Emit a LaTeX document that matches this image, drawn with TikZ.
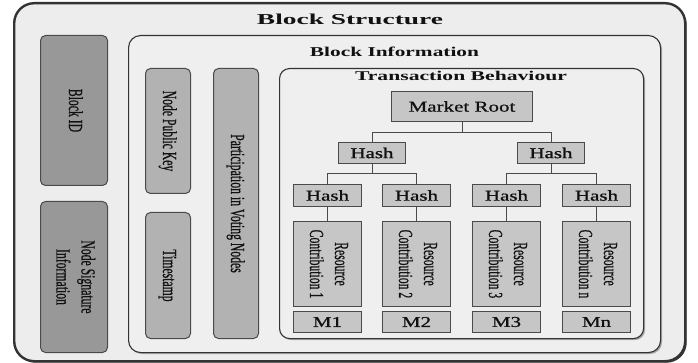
\documentclass[tikz,border=0pt]{standalone}
\usepackage{fontspec}
\setmainfont{Liberation Serif}
\newfontfamily\labelfont[FakeBold=0.8]{Liberation Serif}
\usetikzlibrary{shadows}

\definecolor{outerfill}{HTML}{EDEDED}
\definecolor{innerfill}{HTML}{EFEFEF}
\definecolor{darkcell}{HTML}{989898}
\definecolor{midcell}{HTML}{B2B2B2}
\definecolor{treecell}{HTML}{C6C6C6}
\definecolor{edgecol}{HTML}{4A4A4A}
\definecolor{framecol}{HTML}{333333}
\definecolor{inkcol}{HTML}{111111}

% wide horizontal labels and condensed vertical labels
\newcommand{\widelabel}[1]{\scalebox{1.4}[1]{#1}}
\newcommand{\talllabel}[1]{\rotatebox{-90}{\scalebox{0.585}[1]{\begin{tabular}{@{}c@{}}#1\end{tabular}}}}

\tikzset{
  x=1pt, y=-1pt,
  every node/.style={text=inkcol},
  frame/.style={draw=framecol, rounded corners=#1, anchor=north west, inner sep=0pt},
  outerframe/.style={frame=20pt, line width=2.4pt, fill=outerfill,
    drop shadow={shadow xshift=1.5pt, shadow yshift=-1.5pt, fill=framecol, opacity=1}},
  infoframe/.style={frame=12pt, line width=1.1pt, fill=innerfill,
    drop shadow={shadow xshift=1.5pt, shadow yshift=-1.5pt, fill=gray!70, opacity=1}},
  txframe/.style={frame=10pt, line width=1.1pt, fill=innerfill,
    drop shadow={shadow xshift=1.5pt, shadow yshift=-1.5pt, fill=gray!70, opacity=1}},
  sidebox/.style={draw=edgecol, line width=1pt, rounded corners=5pt, anchor=north west,
    inner sep=0pt, font=\labelfont\fontsize{20}{25}\selectfont},
  darkbox/.style={sidebox, fill=darkcell},
  midbox/.style={sidebox, fill=midcell},
  treebox/.style={draw=edgecol, line width=1pt, fill=treecell, anchor=north west,
    inner sep=0pt, font=\labelfont\fontsize{15}{18}\selectfont},
  hashbox/.style={treebox, minimum width=68pt, minimum height=22pt},
  resbox/.style={treebox, minimum width=68pt, minimum height=85pt, font=\labelfont\fontsize{20}{25}\selectfont},
  mbox/.style={treebox, minimum width=68pt, minimum height=21pt},
  title/.style={anchor=base, inner sep=0pt},
  link/.style={draw=edgecol, line width=1pt},
}

\begin{document}
\begin{tikzpicture}
\useasboundingbox (0,0) rectangle (698,363);
\fill[white] (0,0) rectangle (698,363);

% nested frames
\node[outerframe, minimum width=671pt, minimum height=358pt] (structure) at (13,2) {};
\node[title] (structuretitle) at (350,24.3) {\resizebox{186pt}{10.5pt}{\bfseries Block Structure}};

\node[infoframe, minimum width=532pt, minimum height=317pt] (info) at (128,35) {};
\node[title] (infotitle) at (394.5,56.7) {\resizebox{169pt}{9.5pt}{\bfseries Block Information}};

\node[txframe, minimum width=364pt, minimum height=270pt] (tx) at (279,68) {};
\node[title] (txtitle) at (461,80.7) {\resizebox{212pt}{9.3pt}{\bfseries Transaction Behaviour}};

% header fields
\node[darkbox, minimum width=67pt, minimum height=150pt] (blockid) at (40,35) {\talllabel{Block ID}};
\node[darkbox, minimum width=67pt, minimum height=151pt] (signature) at (40,201) {\talllabel{Node Signature\\Information}};
\node[midbox, minimum width=45pt, minimum height=125pt] (pubkey) at (145,68) {\talllabel{Node Public Key}};
\node[midbox, minimum width=45pt, minimum height=126pt] (timestamp) at (145,212) {\talllabel{Timestamp}};
\node[midbox, minimum width=45pt, minimum height=270pt] (voting) at (213,68) {\talllabel{Participation in Voting Nodes}};

% Merkle tree
\node[treebox, minimum width=141pt, minimum height=30pt] (root) at (391,91) {\widelabel{Market Root}};
\node[treebox, minimum width=67pt, minimum height=21pt] (hl) at (338,142) {\widelabel{Hash}};
\node[treebox, minimum width=67pt, minimum height=21pt] (hr) at (517,142) {\widelabel{Hash}};

\node[hashbox] (h1) at (293,184) {\widelabel{Hash}};
\node[hashbox] (h2) at (382,184) {\widelabel{Hash}};
\node[hashbox] (h3) at (472,184) {\widelabel{Hash}};
\node[hashbox] (h4) at (562,184) {\widelabel{Hash}};

\node[resbox] (r1) at (293,221) {\talllabel{Resource\\Contribution 1}};
\node[resbox] (r2) at (382,221) {\talllabel{Resource\\Contribution 2}};
\node[resbox] (r3) at (472,221) {\talllabel{Resource\\Contribution 3}};
\node[resbox] (r4) at (562,221) {\talllabel{Resource\\Contribution n}};

\node[mbox] (m1) at (293,311) {\widelabel{M1}};
\node[mbox] (m2) at (382,311) {\widelabel{M2}};
\node[mbox] (m3) at (472,311) {\widelabel{M3}};
\node[mbox] (m4) at (562,311) {\widelabel{Mn}};

% tree connectors
\draw[link] (root.south) -- ++(0,11) -| (hl.north);
\draw[link] (root.south) -- ++(0,11) -| (hr.north);
\draw[link] (hl.south) -- ++(0,10) -| (h1.north);
\draw[link] (hl.south) -- ++(0,10) -| (h2.north);
\draw[link] (hr.south) -- ++(0,10) -| (h3.north);
\draw[link] (hr.south) -- ++(0,10) -| (h4.north);
\draw[link] (h1.south) -- (r1.north);
\draw[link] (h2.south) -- (r2.north);
\draw[link] (h3.south) -- (r3.north);
\draw[link] (h4.south) -- (r4.north);
\end{tikzpicture}
\end{document}
